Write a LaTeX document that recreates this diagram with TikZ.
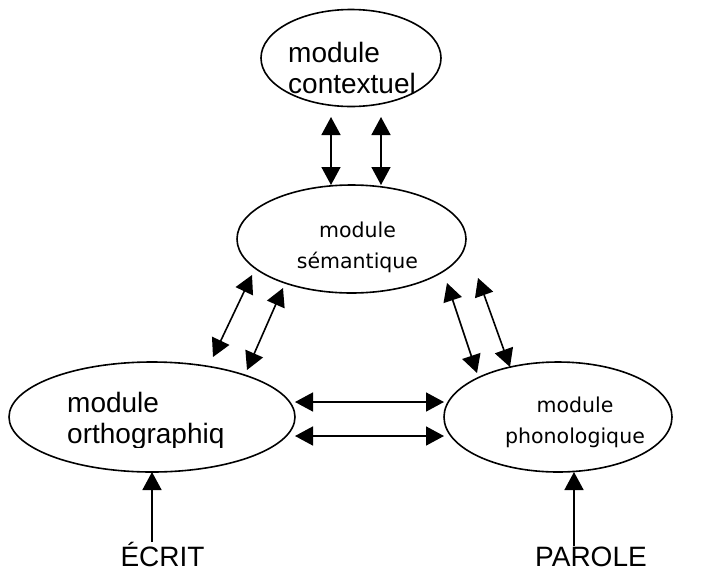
\documentclass[tikz,border=0pt]{standalone}
\usepackage{fontspec}
\setmainfont{Liberation Sans}
\newfontfamily\comicfont{DejaVu Sans}
\usetikzlibrary{arrows.meta,shapes.geometric}

\begin{document}
\begin{tikzpicture}[
    x=1pt, y=-1pt,
    module/.style={draw, ellipse, line width=1.6pt, inner sep=0pt, outer sep=0pt},
    arial/.style={font=\fontsize{28}{30.5}\selectfont, align=left, inner sep=0pt},
    comic/.style={font=\comicfont\fontsize{20.5}{31}\selectfont, align=center, inner sep=0pt},
    dbl/.style={line width=1.6pt, {Triangle[length=18pt,width=19pt]}-{Triangle[length=18pt,width=19pt]}},
    uni/.style={line width=1.6pt, -{Triangle[length=18pt,width=19pt]}}
  ]
  \useasboundingbox (0,0) rectangle (704,571);

  \node[module, minimum width=180pt, minimum height=97pt] (ctx) at (351,58) {};
  \node[module, minimum width=229pt, minimum height=108pt] (sem) at (351.5,239) {};
  \node[module, minimum width=286pt, minimum height=110pt] (orth) at (152,417) {};
  \node[module, minimum width=228pt, minimum height=110pt] (phon) at (558,417) {};

  \node[arial, anchor=base west] (ctxtext) at (288,93) {module\\contextuel};
  \node[comic, anchor=base] (semtext) at (357.5,268) {module\\sémantique};
  \begin{scope}
    \clip (0,0) rectangle (704,447);
    \node[arial, anchor=base west] (orthtext) at (67,443) {module\\orthographiq};
  \end{scope}
  \node[comic, anchor=base] (phontext) at (575,443) {module\\phonologique};
  \node[arial, anchor=base] (ecrit) at (162.5,566) {ÉCRIT};
  \node[arial, anchor=base] (parole) at (591,566) {PAROLE};

  \draw[dbl] ([shift={(-20,59)}]ctx.center) -- ([shift={(-20.5,-54)}]sem.center);
  \draw[dbl] ([shift={(30,59)}]ctx.center) -- ([shift={(29.5,-54)}]sem.center);
  \draw[dbl] ([shift={(61,-60)}]orth.center) -- ([shift={(-99.5,36)}]sem.center);
  \draw[dbl] ([shift={(95,-47)}]orth.center) -- ([shift={(-68.5,49)}]sem.center);
  \draw[dbl] ([shift={(95.5,44)}]sem.center) -- ([shift={(-81,-44)}]phon.center);
  \draw[dbl] ([shift={(126.5,39)}]sem.center) -- ([shift={(-48,-50)}]phon.center);
  \draw[dbl] ([shift={(143,-15)}]orth.center) -- ([shift={(-114,-15)}]phon.center);
  \draw[dbl] ([shift={(143,19)}]orth.center) -- ([shift={(-114,19)}]phon.center);
  \draw[uni] (ecrit.north -| orth.south) -- (orth.south);
  \draw[uni] ([xshift=16pt]phon.south |- parole.north) -- ([xshift=16pt]phon.south);
\end{tikzpicture}
\end{document}
